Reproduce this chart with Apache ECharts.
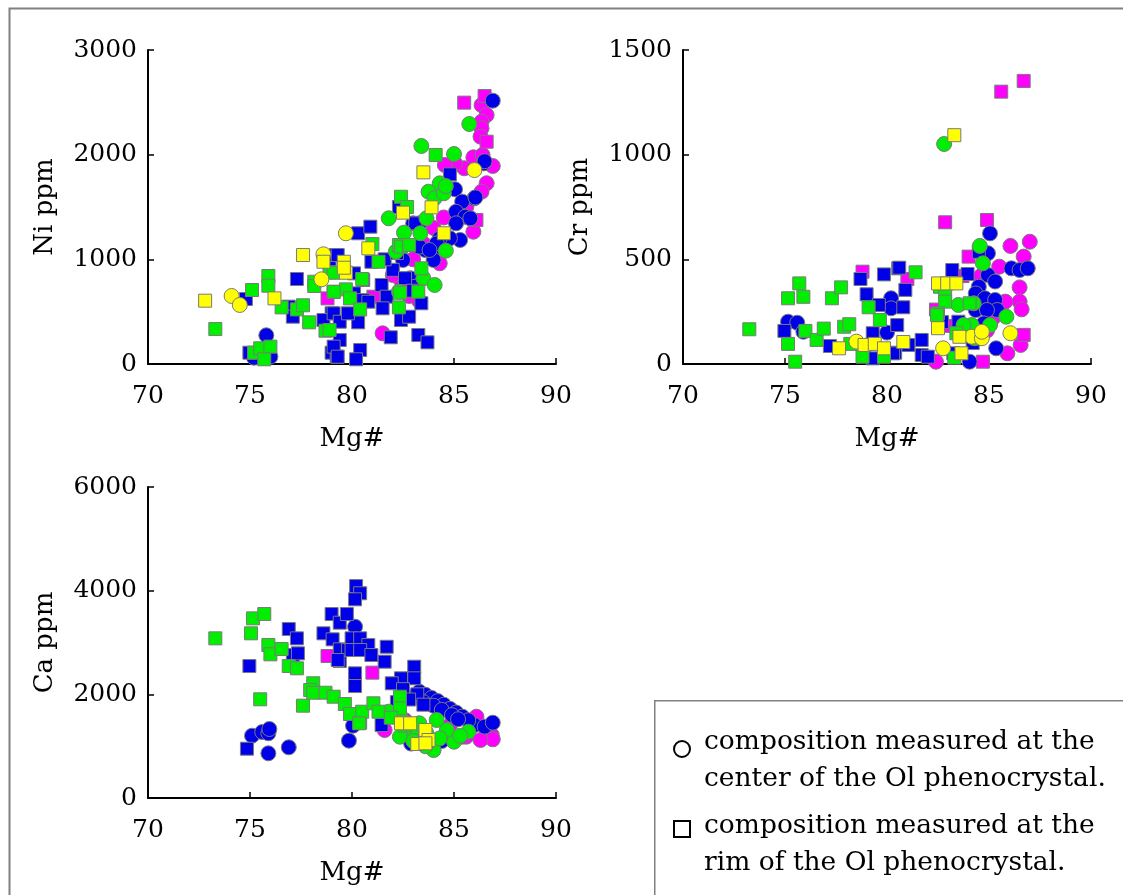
<!DOCTYPE html>
<html>
<head>
<meta charset="utf-8">
<script src="https://cdn.jsdelivr.net/npm/echarts@6/dist/echarts.min.js"></script>
<style>
  html, body { margin: 0; padding: 0; background: #fff; }
  #chart { width: 1123px; height: 895px; }
</style>
</head>
<body>
<div id="chart"></div>
<script>
// [Mg#, ppm] pairs
const niBlueCircle = [[75.8,274],[76.0,70],[75.5,100],[75.2,60],[85.05,1669],[86.0,1583],[85.4,1551],[85.1,1455],[85.55,1407],[85.8,1392],[85.1,1344],[85.3,1185],[84.8,1201],[84.3,1201],[84.05,1106],[84.0,994],[83.6,1089],[83.3,1121],[82.5,994],[82.85,819],[83.1,739],[86.45,1917],[83.0,1344],[83.3,1344],[86.9,2516],[86.5,1937],[86.05,1592],[84.15,1153],[83.8,1089]];
const niBlueSquare = [[74.8,621],[74.97,108],[76.9,548],[77.1,452],[77.3,812],[78.9,962],[79.2,1041],[79.0,484],[78.6,420],[79.0,108],[79.25,70],[79.1,484],[79.4,404],[80.3,398],[79.8,484],[79.4,229],[79.1,166],[79.3,70],[80.4,134],[80.2,45],[79.3,1041],[80.1,866],[80.55,803],[80.1,675],[80.55,611],[80.8,595],[80.3,1249],[80.9,1312],[80.95,977],[81.45,755],[81.7,643],[81.5,532],[81.9,255],[82.4,420],[82.8,452],[83.25,277],[83.7,207],[83.4,580],[83.1,1344],[84.8,1812],[82.3,1500],[82.0,900],[82.6,820],[83.0,700],[81.6,1000],[82.2,1060]];
const niGreenCircle = [[83.4,2083],[85.0,2006],[85.75,2293],[84.3,1726],[83.75,1646],[84.05,1583],[84.5,1631],[83.65,1392],[81.8,1392],[82.55,1255],[83.35,1249],[84.6,1083],[82.15,1073],[83.5,819],[84.05,755],[82.3,691],[84.6,1700]];
const niGreenSquare = [[73.3,334],[75.1,707],[75.9,841],[75.9,748],[75.2,108],[75.5,150],[76.0,166],[75.7,45],[76.55,541],[77.3,522],[77.6,561],[77.9,398],[78.15,786],[78.15,745],[78.9,876],[79.1,688],[78.7,318],[78.9,325],[79.1,872],[79.7,713],[79.9,627],[79.1,691],[80.4,522],[80.5,812],[81.0,1146],[81.3,977],[82.35,681],[82.3,541],[83.25,691],[83.4,914],[82.3,1137],[82.4,1121],[82.8,1137],[84.1,1997],[82.4,1598],[82.7,1500]];
const niMagentaCircle = [[81.5,293],[86.35,2474],[86.6,2379],[86.35,2315],[86.35,2252],[86.3,2172],[85.95,1975],[86.4,1997],[86.9,1892],[85.5,1870],[85.05,1917],[84.55,1901],[86.6,1727],[86.35,1646],[85.95,1264],[85.8,1392],[84.3,962],[82.2,1073],[83.0,1000],[83.5,1150],[84.0,1300],[84.5,1400],[85.3,1450],[82.4,800],[82.8,650],[83.3,600],[85.6,1500],[82.0,850]];
const niMagentaSquare = [[85.5,2497],[86.6,2124],[78.8,627],[81.05,643],[86.1,1376],[86.5,2560]];
const niYellowCircle = [[74.1,650],[74.5,564],[78.6,1048],[78.5,809],[79.7,1249],[86.0,1853]];
const niYellowSquare = [[72.8,605],[76.2,627],[77.6,1041],[78.6,977],[79.6,977],[79.7,872],[80.8,1105],[83.5,1831],[83.9,1497],[82.5,1446],[84.5,1249],[79.6,920]];

const crBlueCircle = [[75.15,202],[75.6,197],[75.9,154],[80.2,314],[80.2,266],[80.0,150],[86.1,457],[86.5,449],[86.9,457],[85.05,624],[84.95,529],[84.95,425],[85.3,394],[84.5,369],[84.35,337],[84.8,314],[85.3,306],[85.4,258],[84.35,258],[84.9,258],[84.75,194],[85.35,75],[84.05,11]];
const crBlueSquare = [[74.97,158],[77.2,86],[78.7,406],[79.85,428],[79.0,333],[79.6,282],[79.3,147],[79.3,27],[80.4,54],[80.55,457],[80.6,460],[80.9,354],[80.8,271],[80.5,186],[81.7,115],[81.7,43],[81.05,91],[80.3,51],[82.0,35],[83.2,449],[83.95,430],[84.5,536],[83.5,202],[83.25,51],[82.7,200],[83.8,150],[84.2,100]];
const crGreenCircle = [[82.8,1051],[84.55,564],[84.7,481],[83.5,282],[84.25,290],[85.85,226],[84.15,186],[83.75,186],[85.05,186],[84.3,123]];
const crGreenSquare = [[73.25,166],[75.15,314],[75.7,385],[75.9,321],[75.15,96],[75.5,11],[76.0,158],[76.55,115],[76.9,169],[77.3,314],[77.75,366],[77.9,178],[78.15,190],[79.1,271],[79.65,210],[78.8,35],[78.2,96],[79.85,35],[81.4,438],[82.6,369],[82.85,345],[82.85,298],[82.5,242],[83.4,147],[84.05,290],[82.45,234],[83.3,30]];
const crMagentaCircle = [[86.05,564],[87.0,584],[86.7,513],[85.5,465],[86.5,366],[86.5,298],[86.6,261],[85.8,298],[86.55,91],[85.9,51],[82.4,11],[84.6,420],[85.2,220],[84.9,160]];
const crMagentaSquare = [[86.7,1352],[85.6,1301],[82.85,677],[84.9,688],[84.0,513],[78.8,441],[81.0,406],[86.7,139],[84.7,11],[83.0,182],[82.4,260],[83.7,420]];
const crYellowCircle = [[78.5,107],[82.75,75],[84.15,130],[84.65,123],[84.65,154],[86.05,147]];
const crYellowSquare = [[77.65,75],[78.9,91],[79.4,96],[79.85,75],[80.8,105],[83.3,1093],[83.65,51],[83.55,130],[82.5,171],[82.5,385],[82.95,385],[83.4,385]];

const caBlueCircle = [[75.1,1202],[75.6,1273],[75.9,1248],[75.95,1331],[75.9,862],[76.9,978],[79.85,1106],[80.05,1395],[80.15,3305],[86.0,1408],[86.5,1376],[86.9,1453],[83.3,2050],[83.6,1990],[83.9,1930],[84.2,1870],[84.5,1800],[84.8,1720],[85.1,1650],[85.4,1570],[85.7,1500],[83.0,1950],[83.5,1850],[84.0,1780],[84.4,1700],[84.9,1600],[85.2,1520],[82.9,1050],[84.4,1100]];
const caBlueSquare = [[74.97,2546],[74.85,951],[76.9,3260],[77.3,3080],[77.1,2758],[77.35,2791],[79.0,3549],[79.4,3382],[79.75,3549],[78.6,3177],[79.05,3061],[79.4,2868],[79.4,2643],[79.8,2855],[80.15,3048],[80.15,2405],[80.15,2160],[80.2,4089],[80.4,3950],[80.15,3833],[79.98,3080],[80.4,3080],[80.8,2951],[79.98,2855],[80.4,2855],[79.3,2662],[80.95,2758],[81.6,2630],[81.7,2918],[83.05,2533],[83.05,2309],[82.4,2309],[81.95,2213],[81.45,1408],[82.5,2100],[83.2,2000],[82.8,1900],[83.5,1800],[82.2,1850]];
const caGreenCircle = [[81.8,1665],[82.4,1537],[82.75,1376],[82.9,1248],[82.35,1183],[84.0,926],[85.0,1086],[85.7,1279],[84.65,1312],[83.65,1248],[83.3,1441],[84.15,1505],[83.0,1100],[84.3,1150],[85.3,1200],[83.6,1000]];
const caGreenSquare = [[73.3,3080],[75.15,3466],[75.7,3549],[75.05,3177],[75.9,2951],[76.0,2772],[76.55,2874],[76.9,2546],[77.3,2502],[75.5,1904],[77.6,1781],[78.1,2213],[77.95,2083],[78.1,2031],[78.7,2031],[79.1,1954],[79.65,1813],[79.9,1620],[80.4,1453],[80.5,1665],[81.05,1827],[80.35,1441],[81.3,1665],[82.35,1954],[82.35,1730],[81.9,1550],[82.6,1400]];
const caMagentaCircle = [[81.6,1312],[85.6,1183],[86.1,1568],[86.85,1215],[86.9,1132],[86.3,1119],[85.4,1183],[82.6,1500],[84.8,1400]];
const caMagentaSquare = [[78.8,2739],[81.0,2418],[82.3,1700]];
const caYellowSquare = [[82.4,1441],[82.85,1441],[83.6,1312],[83.75,1119],[83.2,1042],[83.6,1055]];

const legendLines = ['composition measured at the', 'center of the Ol phenocrystal.', 'composition measured at the', 'rim of the Ol phenocrystal.'];

const FONT = 'DejaVu Serif';
const colors = { blue: '#0000e8', green: '#00ee00', magenta: '#ff00ff', yellow: '#ffff00' };

function mk(idx, data, color, shape) {
  return {
    type: 'scatter',
    xAxisIndex: idx,
    yAxisIndex: idx,
    data: data,
    symbol: shape === 'c' ? 'circle' : 'rect',
    symbolSize: shape === 'c' ? 15 : 13,
    itemStyle: { color: color, borderColor: '#7a7a7a', borderWidth: 1, opacity: 1 },
    emphasis: { disabled: true },
    silent: true,
    animation: false
  };
}

function xAx(idx) {
  return {
    type: 'value', gridIndex: idx, min: 70, max: 90, interval: 5,
    name: 'Mg#', nameLocation: 'middle', nameGap: 62,
    nameTextStyle: { fontFamily: FONT, fontSize: 26, color: '#000' },
    axisLine: { lineStyle: { color: '#000', width: 2 } },
    axisTick: { inside: true, length: 6, lineStyle: { color: '#000', width: 1.5 } },
    axisLabel: { fontFamily: FONT, fontSize: 25, color: '#000', margin: 20 },
    splitLine: { show: false }
  };
}

function yAx(idx, max, interval, name) {
  return {
    type: 'value', gridIndex: idx, min: 0, max: max, interval: interval,
    name: name, nameLocation: 'middle', nameGap: 90,
    nameTextStyle: { fontFamily: FONT, fontSize: 26, color: '#000' },
    axisLine: { show: true, lineStyle: { color: '#000', width: 2 } },
    axisTick: { show: true, inside: true, length: 6, lineStyle: { color: '#000', width: 1.5 } },
    axisLabel: { fontFamily: FONT, fontSize: 25, color: '#000', margin: 11, formatter: (v) => String(v) },
    splitLine: { show: false }
  };
}

const chart = echarts.init(document.getElementById('chart'));

const series = [
  mk(0, niMagentaCircle, colors.magenta, 'c'), mk(0, niMagentaSquare, colors.magenta, 's'),
  mk(0, niBlueCircle, colors.blue, 'c'), mk(0, niBlueSquare, colors.blue, 's'),
  mk(0, niGreenCircle, colors.green, 'c'), mk(0, niGreenSquare, colors.green, 's'),
  mk(0, niYellowCircle, colors.yellow, 'c'), mk(0, niYellowSquare, colors.yellow, 's'),
  mk(1, crMagentaCircle, colors.magenta, 'c'), mk(1, crMagentaSquare, colors.magenta, 's'),
  mk(1, crBlueCircle, colors.blue, 'c'), mk(1, crBlueSquare, colors.blue, 's'),
  mk(1, crGreenCircle, colors.green, 'c'), mk(1, crGreenSquare, colors.green, 's'),
  mk(1, crYellowCircle, colors.yellow, 'c'), mk(1, crYellowSquare, colors.yellow, 's'),
  mk(2, caMagentaCircle, colors.magenta, 'c'), mk(2, caMagentaSquare, colors.magenta, 's'),
  mk(2, caBlueCircle, colors.blue, 'c'), mk(2, caBlueSquare, colors.blue, 's'),
  mk(2, caGreenCircle, colors.green, 'c'), mk(2, caGreenSquare, colors.green, 's'),
  mk(2, caYellowSquare, colors.yellow, 's')
];

const LEGEND_FONT = '26.5px "DejaVu Serif"';

const option = {
  backgroundColor: '#fff',
  animation: false,
  grid: [
    { left: 148, top: 50, width: 408, height: 314 },
    { left: 683, top: 50, width: 408, height: 314 },
    { left: 148, top: 487, width: 408, height: 311 }
  ],
  xAxis: [xAx(0), xAx(1), xAx(2)],
  yAxis: [yAx(0, 3000, 1000, 'Ni ppm'), yAx(1, 1500, 500, 'Cr ppm'), yAx(2, 6000, 2000, 'Ca ppm')],
  series: series,
  graphic: [
    { type: 'rect', left: 7, top: 6, shape: { width: 1130, height: 900 }, style: { fill: 'none', stroke: '#808080', lineWidth: 2 }, silent: true },
    { type: 'rect', left: 654, top: 700, shape: { width: 480, height: 200 }, style: { fill: '#fff', stroke: '#808080', lineWidth: 1.5 }, silent: true },
    { type: 'circle', shape: { cx: 682, cy: 749, r: 8 }, style: { fill: 'none', stroke: '#000', lineWidth: 2 } },
    { type: 'rect', shape: { x: 674, y: 821, width: 16, height: 16 }, style: { fill: 'none', stroke: '#000', lineWidth: 2 } },
    { type: 'text', x: 704, y: 742, style: { text: legendLines[0], font: LEGEND_FONT, fill: '#000', verticalAlign: 'middle' } },
    { type: 'text', x: 704, y: 779, style: { text: legendLines[1], font: LEGEND_FONT, fill: '#000', verticalAlign: 'middle' } },
    { type: 'text', x: 704, y: 826, style: { text: legendLines[2], font: LEGEND_FONT, fill: '#000', verticalAlign: 'middle' } },
    { type: 'text', x: 704, y: 863, style: { text: legendLines[3], font: LEGEND_FONT, fill: '#000', verticalAlign: 'middle' } }
  ]
};

chart.setOption(option);
</script>
</body>
</html>
